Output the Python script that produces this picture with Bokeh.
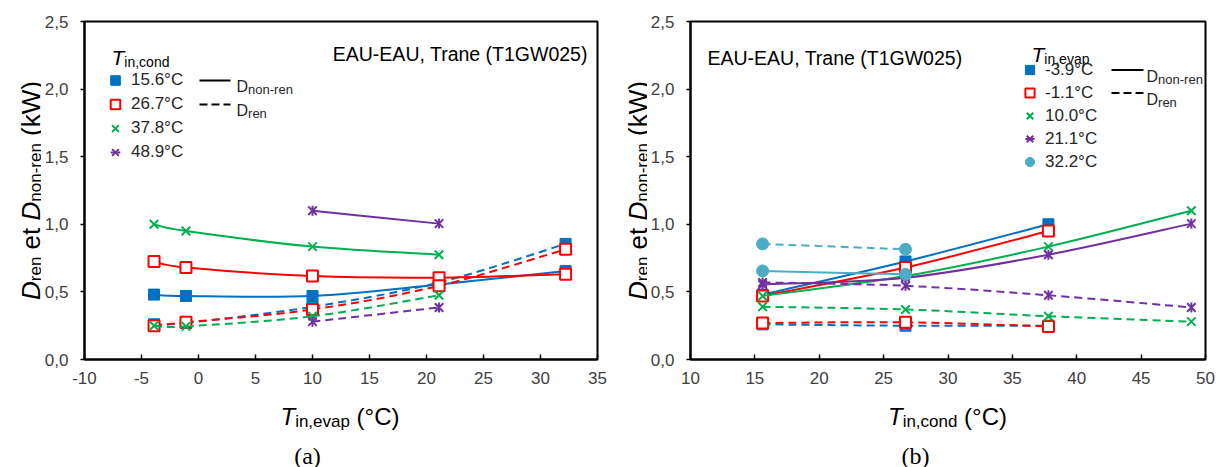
import math
from bokeh.plotting import figure
from bokeh.layouts import row, column
from bokeh.models import (Range1d, SingleIntervalTicker, CustomJSTickFormatter, Label, Arrow,
                          Legend, LegendItem, ColumnDataSource)
from bokeh.embed import file_html
from bokeh.resources import INLINE

# ---------------- data ----------------
cond_temps = [15.6, 26.7, 37.8, 48.9]          # T_in,cond (°C)
evap_temps = [-3.9, -1.1, 10.0, 21.1, 32.2]    # T_in,evap (°C)
cond_labels = ["15.6°C", "26.7°C", "37.8°C", "48.9°C"]
evap_labels = ["-3.9°C", "-1.1°C", "10.0°C", "21.1°C", "32.2°C"]
# rows: cond temps, columns: evap temps (kW)
d_nonren = [
    [0.48, 0.47, 0.47, 0.555, 0.655],
    [0.725, 0.68, 0.617, 0.605, 0.63],
    [1.00, 0.95, 0.835, 0.775, None],
    [None, None, 1.10, 1.005, None],
]
d_ren = [
    [0.26, 0.27, 0.39, 0.57, 0.855],
    [0.25, 0.275, 0.37, 0.545, 0.815],
    [0.25, 0.245, 0.32, 0.475, None],
    [None, None, 0.28, 0.385, None],
]
title_text = "EAU-EAU, Trane (T1GW025)"

# ---------------- style / layout ----------------
COLORS = ["#0070C0", "#FF0000", "#00B050", "#7030A0", "#4BACC6"]
MARKERS = ["sq_fill", "sq_open", "x", "star", "circle"]
FONT = "Liberation Sans"
FRAME_TOP, FRAME_BOTTOM = 21, 359
CHART_H = 392
TOTAL_H = 467

AW = {' ': 278, '(': 333, ')': 333, ',': 278, '-': 333, '.': 278, '°': 400, 'A': 667, 'C': 722,
      'D': 722, 'E': 667, 'G': 778, 'T': 611, 'U': 722, 'W': 944, 'a': 556, 'c': 500, 'd': 556,
      'e': 556, 'i': 222, 'k': 500, 'n': 556, 'o': 556, 'p': 556, 'r': 333, 't': 278, 'v': 500}


def tw(s, size):
    return sum(AW.get(c, 556) for c in s) * size / 1000.0


def rich(p, origin, x, y, segs, angle=0.0, align="left", color="#000000"):
    """segs: (text, size, italic, baseline shift); x, y in page px; origin = page px of frame bottom-left."""
    ox, oy = origin
    total = sum(tw(t, s) for t, s, _, _ in segs)
    pos = {"left": 0.0, "center": -total / 2, "right": -total}[align]
    for t, s, it, sh in segs:
        if t.strip():
            if angle == 0:
                ix, iy = x + pos, y + sh
            else:
                ix, iy = x + sh, y - pos
            p.add_layout(Label(x=ix - ox, y=oy - iy, x_units="screen", y_units="screen",
                               text=t, text_font=FONT, text_font_size=f"{s}px",
                               text_font_style="italic" if it else "normal", text_color=color,
                               text_align="left", text_baseline="alphabetic", angle=angle))
        pos += tw(t, s)


def smooth_source(xs, ys):
    pts = [(x, y) for x, y in zip(xs, ys) if y is not None]
    cols = {k: [] for k in ("x0", "y0", "x1", "y1", "cx0", "cy0", "cx1", "cy1")}
    n = len(pts)
    for i in range(n - 1):
        pa_, p1, p2, pb_ = pts[max(i - 1, 0)], pts[i], pts[i + 1], pts[min(i + 2, n - 1)]
        cols["x0"].append(p1[0]); cols["y0"].append(p1[1])
        cols["x1"].append(p2[0]); cols["y1"].append(p2[1])
        cols["cx0"].append(p1[0] + (p2[0] - pa_[0]) / 6); cols["cy0"].append(p1[1] + (p2[1] - pa_[1]) / 6)
        cols["cx1"].append(p2[0] - (pb_[0] - p1[0]) / 6); cols["cy1"].append(p2[1] - (pb_[1] - p1[1]) / 6)
    return ColumnDataSource(cols)


def draw_markers(p, xs, ys, kind, color):
    pts = [(x, y) for x, y in zip(xs, ys) if y is not None]
    src = ColumnDataSource(dict(x=[a for a, _ in pts], y=[b for _, b in pts]))
    if kind == "sq_fill":
        return [p.scatter("x", "y", source=src, marker="square", size=11, fill_color=color,
                          line_color=color, line_width=1)]
    if kind == "sq_open":
        return [p.scatter("x", "y", source=src, marker="square", size=11, fill_color="white",
                          line_color=color, line_width=2)]
    if kind == "x":
        return [p.scatter("x", "y", source=src, marker="x", size=12, line_color=color, line_width=2)]
    if kind == "star":
        return [p.scatter("x", "y", source=src, marker="x", size=12, line_color=color, line_width=2),
                p.scatter("x", "y", source=src, marker="dash", size=10, angle=math.pi / 2,
                          line_color=color, line_width=2)]
    return [p.scatter("x", "y", source=src, marker="circle", size=12, fill_color=color,
                      line_color=color)]


def text_fig(w, h):
    f = figure(width=w, height=h, x_range=Range1d(0, 1), y_range=Range1d(0, 1),
               output_backend="svg", toolbar_location=None, title=None,
               x_axis_location=None, y_axis_location=None, min_border=0, frame_align=False)
    f.min_border_left = 0
    f.min_border_right = 0
    f.min_border_top = 0
    f.min_border_bottom = 0
    f.xgrid.visible = False
    f.ygrid.visible = False
    f.outline_line_color = None
    f.background_fill_color = "white"
    f.border_fill_color = "white"
    return f


def make_fig(xr, width, mbl, mbr):
    p = figure(width=width, height=CHART_H, x_range=Range1d(*xr), y_range=Range1d(0, 2.5),
               output_backend="svg", toolbar_location=None, title=None, frame_align=False,
               min_border_left=mbl, min_border_right=mbr, min_border_top=FRAME_TOP,
               min_border_bottom=CHART_H - FRAME_BOTTOM)
    p.xgrid.visible = False
    p.ygrid.visible = False
    p.outline_line_color = "black"
    p.outline_line_width = 2
    p.xaxis.ticker = SingleIntervalTicker(interval=5, num_minor_ticks=0)
    p.yaxis.ticker = SingleIntervalTicker(interval=0.5, num_minor_ticks=0)
    p.xaxis.formatter = CustomJSTickFormatter(code="return tick.toFixed(0);")
    p.yaxis.formatter = CustomJSTickFormatter(code="return tick.toFixed(1).replace('.', ',');")
    for ax in (p.xaxis, p.yaxis):
        ax.axis_line_width = 2
        ax.axis_line_color = "black"
        ax.major_tick_line_color = "black"
        ax.major_tick_line_width = 1.5
        ax.minor_tick_line_color = None
        ax.major_label_text_font = FONT
        ax.major_label_text_font_size = "17px"
        ax.major_label_text_color = "#404040"
    p.xaxis.major_tick_in = 5
    p.xaxis.major_tick_out = 0
    p.xaxis.major_label_standoff = 12
    p.yaxis.major_tick_in = 0
    p.yaxis.major_tick_out = 4
    p.yaxis.major_label_standoff = 12
    return p


def build(p, fl, xs_series, ys_nonren, ys_ren, n, labels, title_sub, title_xy, text_pos,
          text_align, legend_pos, row_h, sample_x, d_x):
    origin = (fl, FRAME_BOTTOM)
    items = []
    for i in range(n):
        c = COLORS[i]
        p.bezier(x0="x0", y0="y0", x1="x1", y1="y1", cx0="cx0", cy0="cy0", cx1="cx1", cy1="cy1",
                 source=smooth_source(xs_series, ys_nonren[i]), line_color=c, line_width=2)
        p.bezier(x0="x0", y0="y0", x1="x1", y1="y1", cx0="cx0", cy0="cy0", cx1="cx1", cy1="cy1",
                 source=smooth_source(xs_series, ys_ren[i]), line_color=c, line_width=2,
                 line_dash="8 5")
        rs = draw_markers(p, xs_series, ys_nonren[i], MARKERS[i], c)
        draw_markers(p, xs_series, ys_ren[i], MARKERS[i], c)
        items.append(LegendItem(label=labels[i], renderers=rs))

    gx, gy_first = legend_pos
    gh = row_h
    leg_top = gy_first - gh / 2
    leg_h = n * gh
    legend = Legend(items=items,
                    location=(int(round(gx - gh / 2 - fl)), int(round(FRAME_BOTTOM - (leg_top + leg_h)))),
                    glyph_width=gh, glyph_height=gh, label_height=gh, spacing=0, padding=0, margin=0,
                    label_standoff=4, border_line_color=None, background_fill_alpha=0,
                    label_text_font=FONT, label_text_font_size="17px", label_text_color="#262626")
    p.add_layout(legend)

    # legend title
    rich(p, origin, title_xy[0], title_xy[1], [("T", 21, True, 0), (title_sub, 14, False, 4)])

    # line-style samples
    for k, dash in enumerate(["solid", "8 4"]):
        yy = gy_first + k * row_h
        p.add_layout(Arrow(start=None, end=None, x_start=sample_x[0] - fl, y_start=FRAME_BOTTOM - yy,
                           x_end=sample_x[1] - fl, y_end=FRAME_BOTTOM - yy, start_units="screen",
                           end_units="screen", line_color="black", line_width=2, line_dash=dash))
        rich(p, origin, d_x, yy + 6, [("D", 16, False, 0), ("non-ren" if k == 0 else "ren", 13, False, 3)],
             color="#262626")

    # in-plot title
    rich(p, origin, text_pos[0], text_pos[1], [(title_text, 19.5, False, 0)], align=text_align)


def axis_titles(yfig, yorigin, xfig, xorigin, fl, fr, xtitle_sub, panel, panel_x):
    cx = (fl + fr) / 2
    rich(xfig, xorigin, cx, 416, [("T", 24, True, 0), (xtitle_sub, 17, False, 5), (" ", 24, False, 0),
                                  ("(°C)", 24, False, 0)], align="center")
    xfig.add_layout(Label(x=panel_x - xorigin[0], y=xorigin[1] - 455, x_units="screen", y_units="screen",
                          text=panel, text_font="Liberation Serif", text_font_size="24px",
                          text_color="#000000", text_align="center", text_baseline="alphabetic"))
    cy = (FRAME_TOP + FRAME_BOTTOM) / 2
    rich(yfig, yorigin, fl - 52, cy, [("D", 26, True, 0), ("ren", 17, False, 5), (" ", 26, False, 0),
                                      ("et", 26, False, 0), (" ", 26, False, 0), ("D", 26, True, 0),
                                      ("non-ren", 17, False, 5), (" ", 26, False, 0), ("(kW)", 26, False, 0)],
         angle=math.pi / 2, align="center")


# ---------- panel (a): x = evap temps, one series per cond temp ----------
FA = (82, 597)
YA_W, PA_W = 41, 569
ya = text_fig(YA_W, CHART_H)
pa = make_fig((-10, 35), PA_W, FA[0] - YA_W, (YA_W + PA_W) - FA[1])
build(pa, FA[0], evap_temps, d_nonren, d_ren, len(cond_temps), cond_labels,
      "in,cond", (109, 57), (586, 53), "right", (113, 80), 24, (197, 228), 234)
xa = text_fig(YA_W + PA_W, TOTAL_H - CHART_H)
axis_titles(ya, (0, CHART_H), xa, (0, TOTAL_H), FA[0], FA[1], "in,evap", "(a)", 307)

# ---------- panel (b): x = cond temps, one series per evap temp ----------
FB = (689, 1205)
XB0 = YA_W + PA_W
YB_W, PB_W = 37, 570
nonren_t = [[d_nonren[i][j] for i in range(len(cond_temps))] for j in range(len(evap_temps))]
ren_t = [[d_ren[i][j] for i in range(len(cond_temps))] for j in range(len(evap_temps))]
yb = text_fig(YB_W, CHART_H)
pb = make_fig((10, 50), PB_W, FB[0] - (XB0 + YB_W), (XB0 + YB_W + PB_W) - FB[1])
build(pb, FB[0], cond_temps, nonren_t, ren_t, len(evap_temps), evap_labels,
      "in,evap", (1030, 54), (706, 57), "left", (1029, 69.5), 23, (1110, 1142), 1145)
xb = text_fig(YB_W + PB_W, TOTAL_H - CHART_H)
axis_titles(yb, (XB0, CHART_H), xb, (XB0, TOTAL_H), FB[0], FB[1], "in,cond", "(b)", 915)

layout = row(column(row(ya, pa), xa), column(row(yb, pb), xb))
open("out.html", "w").write(file_html(layout, INLINE))
